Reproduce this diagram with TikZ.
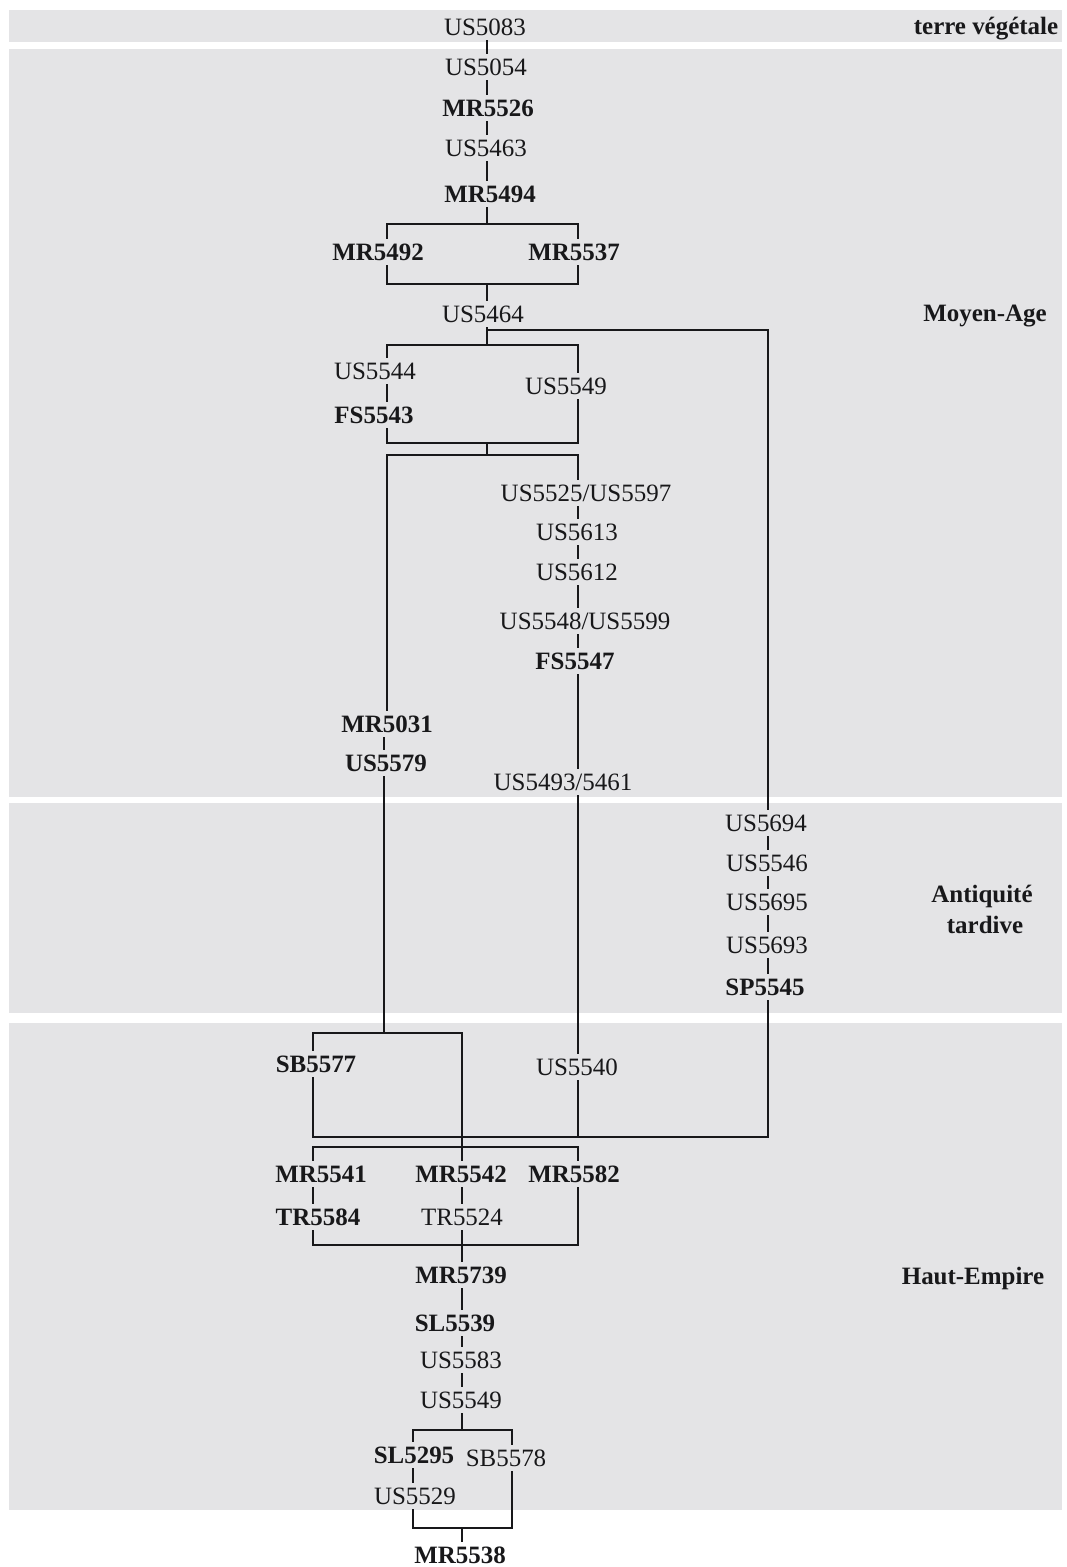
\documentclass[tikz,border=0pt]{standalone}
\usepackage{fontspec}
\setmainfont{Liberation Serif}
\usepackage{xcolor}
\usepackage{tikz}

\definecolor{bandgray}{RGB}{228,228,230}
\definecolor{ink}{RGB}{24,24,26}

\begin{document}
\begin{tikzpicture}[
    x=0.2mm, y=-0.2mm,
    every node/.style={font=\fontsize{14.2}{17.6}\selectfont, text=ink},
    us/.style    ={inner xsep=1pt, inner ysep=2.6pt},
    mr/.style    ={us, font=\fontsize{14.2}{17.6}\selectfont\bfseries},
    period/.style={inner sep=0pt, font=\fontsize{14.2}{17.6}\selectfont\bfseries},
    link/.style  ={draw=ink, line width=0.9pt},
    band/.style  ={fill=bandgray},
  ]
  \useasboundingbox (0,0) rectangle (1067,1567);

  % Period bands
  \fill[band] (9,10)   rectangle (1062,42);
  \fill[band] (9,49)   rectangle (1062,797);
  \fill[band] (9,803)  rectangle (1062,1013);
  \fill[band] (9,1023) rectangle (1062,1510);

  % Period names
  \node[period] (pTV) at (986,29) {terre végétale};
  \node[period] (pMA) at (985,316) {Moyen-Age};
  \node[period,anchor=base] (pAT) at (982,902) {Antiquité};
  \node[period,anchor=base] (pAT2) at (985,933) {tardive};
  \node[period] (pHE) at (973,1278) {Haut-Empire};

  % Columns and rows of the connectors
  \coordinate (cT) at (487,0);
  \coordinate (cL) at (387,0);
  \coordinate (cM) at (578,0);
  \coordinate (cR) at (768,0);
  \coordinate (cU) at (384,0);
  \coordinate (cS) at (313,0);
  \coordinate (cK) at (462,0);
  \coordinate (cA) at (413,0);
  \coordinate (cB) at (512,0);
  \coordinate (r224)  at (0,224);
  \coordinate (r284)  at (0,284);
  \coordinate (r331)  at (0,330);
  \coordinate (r345)  at (0,345);
  \coordinate (r443)  at (0,443);
  \coordinate (r455)  at (0,455);
  \coordinate (r1033) at (0,1033);
  \coordinate (r1137) at (0,1137);
  \coordinate (r1147) at (0,1147);
  \coordinate (r1245) at (0,1245);
  \coordinate (r1430) at (0,1430);
  \coordinate (r1528) at (0,1528);

  % Top: Moyen-Age sequence
  \node[us] (us5083) at (485,27)  {US5083};
  \node[us] (us5054) at (486,67)  {US5054};
  \node[mr] (mr5526) at (488,108) {MR5526};
  \node[us] (us5463) at (486,148) {US5463};
  \node[mr] (mr5494) at (490,194) {MR5494};
  \node[mr] (mr5492) at (378,252) {MR5492};
  \node[mr] (mr5537) at (574,252) {MR5537};
  \node[us] (us5464) at (483,314) {US5464};
  \node[us] (us5544) at (375,371) {US5544};
  \node[mr] (fs5543) at (374,415) {FS5543};
  \node[us] (us5549) at (566,386) {US5549};

  % Middle column
  \node[us] (us5525) at (586,493) {US5525/US5597};
  \node[us] (us5613) at (577,532) {US5613};
  \node[us] (us5612) at (577,572) {US5612};
  \node[us] (us5548) at (585,621) {US5548/US5599};
  \node[mr] (fs5547) at (575,661) {FS5547};
  \node[us] (us5493) at (563,782) {US5493/5461};
  \node[mr] (mr5031) at (387,724) {MR5031};
  \node[mr] (us5579) at (386,763) {US5579};

  % Right column: Antiquite tardive
  \node[us] (us5694) at (766,823) {US5694};
  \node[us] (us5546) at (767,863) {US5546};
  \node[us] (us5695) at (767,902) {US5695};
  \node[us] (us5693) at (767,945) {US5693};
  \node[mr] (sp5545) at (765,987) {SP5545};

  % Bottom: Haut-Empire
  \node[mr] (sb5577) at (316,1064) {SB5577};
  \node[us] (us5540) at (577,1067) {US5540};
  \node[mr] (mr5541) at (321,1174) {MR5541};
  \node[mr] (mr5542) at (461,1174) {MR5542};
  \node[mr] (mr5582) at (574,1174) {MR5582};
  \node[mr] (tr5584) at (318,1217) {TR5584};
  \node[us] (tr5524) at (462,1217) {TR5524};
  \node[mr] (mr5739) at (461,1275) {MR5739};
  \node[mr] (sl5539) at (455,1323) {SL5539};
  \node[us] (us5583) at (461,1360) {US5583};
  \node[us] (us5549b) at (461,1400) {US5549};
  \node[mr] (sl5295) at (414,1455) {SL5295};
  \node[us] (sb5578) at (506,1458) {SB5578};
  \node[us] (us5529) at (415,1496) {US5529};
  \node[mr] (mr5538) at (460,1555) {MR5538};

  % Straight sequences
  \foreach \a/\b in {us5083/us5054,us5054/mr5526,mr5526/us5463,us5463/mr5494}
    \draw[link] (\a.south -| cT) -- (\b.north -| cT);
  \foreach \a/\b in {us5525/us5613,us5613/us5612,us5612/us5548,us5548/fs5547,
                     fs5547/us5493,us5493/us5540}
    \draw[link] (\a.south -| cM) -- (\b.north -| cM);
  \foreach \a/\b in {us5694/us5546,us5546/us5695,us5695/us5693,us5693/sp5545}
    \draw[link] (\a.south -| cR) -- (\b.north -| cR);
  \foreach \a/\b in {tr5524/mr5739,mr5739/sl5539,sl5539/us5583,us5583/us5549b}
    \draw[link] (\a.south -| cK) -- (\b.north -| cK);
  \draw[link] (us5544.south -| cL) -- (fs5543.north -| cL);
  \draw[link] (mr5031.south -| cU) -- (us5579.north -| cU);
  \draw[link] (mr5541.south -| cS) -- (tr5584.north -| cS);
  \draw[link] (mr5542.south -| cK) -- (tr5524.north -| cK);
  \draw[link] (sl5295.south -| cA) -- (us5529.north -| cA);

  % Brackets
  \draw[link] (mr5494.south -| cT) -- (cT |- r224);
  \draw[link] (mr5492.north -| cL) |- (cM |- r224) -- (mr5537.north -| cM);
  \draw[link] (mr5492.south -| cL) |- (cM |- r284) -- (mr5537.south -| cM);
  \draw[link] (cT |- r284) -- (us5464.north -| cT);

  \draw[link] (us5464.south -| cT) -- (cT |- r345);
  \draw[link] (cT |- r331) -| (us5694.north -| cR);
  \draw[link] (us5544.north -| cL) |- (cM |- r345) -- (us5549.north -| cM);
  \draw[link] (fs5543.south -| cL) |- (cM |- r443) -- (us5549.south -| cM);
  \draw[link] (cT |- r443) -- (cT |- r455);
  \draw[link] (mr5031.north -| cL) |- (cM |- r455) -- (us5525.north -| cM);

  \draw[link] (us5579.south -| cU) -- (cU |- r1033);
  \draw[link] (sb5577.north -| cS) |- (cK |- r1033) -- (mr5542.north -| cK);
  \draw[link] (sb5577.south -| cS) |- (cR |- r1137) -- (sp5545.south -| cR);
  \draw[link] (us5540.south -| cM) -- (cM |- r1137);
  \draw[link] (mr5541.north -| cS) |- (cM |- r1147) -- (mr5582.north -| cM);
  \draw[link] (tr5584.south -| cS) |- (cM |- r1245) -- (mr5582.south -| cM);

  \draw[link] (us5549b.south -| cK) -- (cK |- r1430);
  \draw[link] (sl5295.north -| cA) |- (cB |- r1430) -- (sb5578.north -| cB);
  \draw[link] (us5529.south -| cA) |- (cB |- r1528) -- (sb5578.south -| cB);
  \draw[link] (cK |- r1528) -- (mr5538.north -| cK);
\end{tikzpicture}
\end{document}
